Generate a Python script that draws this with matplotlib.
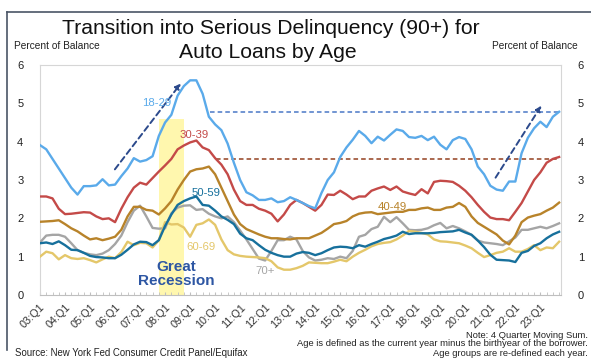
#!/usr/bin/env python3
"""Transition into serious delinquency (90+) for auto loans, by borrower age."""

import matplotlib
matplotlib.use("Agg")
import matplotlib.pyplot as plt
from matplotlib.lines import Line2D

plt.rcParams["font.family"] = ["Liberation Sans", "DejaVu Sans"]

# quarterly, 03:Q1 .. 23:Q4, percent of balance (4 quarter moving sum)
age_18_29 = [3.91, 3.80, 3.55, 3.30, 3.05, 2.80, 2.62, 2.84, 2.84, 2.86,
             3.02, 2.86, 2.88, 3.10, 3.30, 3.57, 3.48, 3.52, 3.62, 4.15,
             4.50, 4.70, 5.20, 5.45, 5.60, 5.60, 5.25, 4.65, 4.45, 4.30,
             3.95, 3.45, 3.00, 2.68, 2.60, 2.48, 2.48, 2.52, 2.42, 2.45,
             2.55, 2.48, 2.40, 2.32, 2.26, 2.66, 3.00, 3.20, 3.60, 3.85,
             4.05, 4.28, 4.15, 3.96, 4.13, 4.03, 4.18, 4.32, 4.28, 4.12,
             4.10, 4.15, 4.04, 4.13, 3.92, 3.80, 4.04, 4.12, 4.07, 3.80,
             3.35, 3.15, 2.85, 2.75, 2.72, 2.96, 2.96, 3.70, 4.10, 4.35,
             4.52, 4.38, 4.65, 4.78]
age_30_39 = [2.57, 2.57, 2.52, 2.25, 2.11, 2.12, 2.14, 2.16, 2.15, 2.05,
             1.98, 2.00, 1.90, 2.25, 2.55, 2.80, 2.93, 2.88, 3.05, 3.22,
             3.38, 3.55, 3.80, 3.90, 3.98, 4.03, 3.85, 3.78, 3.57, 3.40,
             3.15, 2.75, 2.45, 2.35, 2.35, 2.25, 2.20, 2.12, 1.92, 2.10,
             2.35, 2.48, 2.40, 2.30, 2.20, 2.35, 2.62, 2.61, 2.72, 2.62,
             2.50, 2.57, 2.57, 2.72, 2.78, 2.83, 2.74, 2.83, 2.70, 2.65,
             2.61, 2.76, 2.65, 2.95, 2.98, 2.97, 2.95, 2.85, 2.72, 2.55,
             2.35, 2.17, 2.02, 1.98, 1.98, 1.95, 2.17, 2.40, 2.70, 3.00,
             3.20, 3.45, 3.55, 3.60]
age_40_49 = [1.91, 1.92, 1.93, 1.95, 1.85, 1.74, 1.66, 1.55, 1.45, 1.48,
             1.43, 1.47, 1.52, 1.70, 2.05, 2.30, 2.30, 2.22, 2.20, 2.10,
             2.26, 2.45, 2.75, 3.00, 3.22, 3.28, 3.30, 3.35, 3.15, 2.80,
             2.45, 2.10, 1.85, 1.72, 1.65, 1.58, 1.52, 1.48, 1.48, 1.46,
             1.45, 1.48, 1.48, 1.48, 1.55, 1.62, 1.73, 1.85, 1.88, 1.93,
             2.05, 2.12, 2.15, 2.16, 2.11, 2.13, 2.15, 2.17, 2.17, 2.22,
             2.22, 2.26, 2.28, 2.22, 2.22, 2.28, 2.30, 2.40, 2.30, 2.05,
             1.88, 1.78, 1.68, 1.58, 1.42, 1.32, 1.55, 1.90, 2.02, 2.07,
             2.11, 2.20, 2.28, 2.41]
age_50_59 = [1.35, 1.37, 1.33, 1.40, 1.30, 1.18, 1.17, 1.10, 1.02, 0.99,
             0.98, 0.96, 0.96, 1.05, 1.18, 1.32, 1.39, 1.38, 1.30, 1.43,
             1.80, 2.10, 2.35, 2.45, 2.52, 2.57, 2.35, 2.33, 2.20, 2.05,
             1.96, 1.85, 1.60, 1.48, 1.43, 1.30, 1.18, 1.10, 1.04, 1.00,
             1.00, 1.08, 1.12, 1.10, 1.04, 1.09, 1.17, 1.24, 1.26, 1.25,
             1.22, 1.30, 1.26, 1.33, 1.39, 1.46, 1.50, 1.55, 1.65, 1.59,
             1.61, 1.61, 1.61, 1.62, 1.64, 1.65, 1.66, 1.70, 1.63, 1.57,
             1.42, 1.25, 1.05, 0.92, 0.91, 0.90, 0.86, 1.10, 1.15, 1.28,
             1.35, 1.48, 1.58, 1.65]
age_60_69 = [1.00, 1.13, 1.09, 0.93, 1.04, 0.96, 0.94, 0.96, 0.91, 0.85,
             0.93, 1.00, 0.96, 1.12, 1.39, 1.30, 1.36, 1.35, 1.24, 1.43,
             1.90, 1.84, 1.85, 1.76, 1.52, 1.83, 1.87, 1.97, 1.83, 1.45,
             1.17, 1.06, 1.02, 1.00, 0.99, 0.98, 0.96, 0.88, 0.72, 0.66,
             0.66, 0.70, 0.76, 0.85, 0.84, 0.83, 0.83, 0.87, 0.92, 0.88,
             1.00, 1.10, 1.18, 1.27, 1.33, 1.36, 1.38, 1.45, 1.55, 1.67,
             1.65, 1.62, 1.58, 1.45, 1.40, 1.39, 1.37, 1.35, 1.29, 1.22,
             1.10, 0.99, 1.04, 1.10, 1.13, 1.22, 1.13, 1.13, 1.20, 1.30,
             1.17, 1.24, 1.22, 1.39]
age_70_plus = [1.37, 1.55, 1.57, 1.57, 1.52, 1.35, 1.17, 1.10, 1.06, 1.04,
               1.08, 1.17, 1.33, 1.55, 1.90, 2.20, 2.33, 2.05, 1.75, 1.73,
               1.74, 2.13, 2.28, 2.33, 2.34, 2.22, 2.24, 2.12, 2.05, 2.00,
               2.05, 1.90, 1.68, 1.45, 1.20, 0.95, 0.90, 1.15, 1.43, 1.43,
               1.52, 1.45, 1.15, 0.98, 0.90, 0.92, 0.96, 0.94, 1.00, 0.96,
               1.15, 1.52, 1.57, 1.72, 1.78, 2.04, 1.90, 2.03, 1.87, 1.70,
               1.69, 1.70, 1.74, 1.82, 1.88, 1.74, 1.80, 1.74, 1.66, 1.57,
               1.42, 1.37, 1.35, 1.33, 1.30, 1.40, 1.50, 1.70, 1.70, 1.74,
               1.78, 1.74, 1.80, 1.87]

tick_labels = ["03:Q1", "04:Q1", "05:Q1", "06:Q1", "07:Q1", "08:Q1", "09:Q1",
               "10:Q1", "11:Q1", "12:Q1", "13:Q1", "14:Q1", "15:Q1", "16:Q1",
               "17:Q1", "18:Q1", "19:Q1", "20:Q1", "21:Q1", "22:Q1", "23:Q1"]

recession_start, recession_end = 19, 23   # quarter index of shaded band
ref_18_29 = 4.78   # latest 18-29 level, dashed back to 2009
ref_30_39 = 3.56   # latest 30-39 level, dashed back to 2010

series = [
    ("18-29", age_18_29, "#5aaaea"),
    ("30-39", age_30_39, "#c44a48"),
    ("40-49", age_40_49, "#b8832a"),
    ("50-59", age_50_59, "#17709c"),
    ("60-69", age_60_69, "#e4c76a"),
    ("70+", age_70_plus, "#a5a5a5"),
]

W, H = 591, 360
fig = plt.figure(figsize=(W / 100, H / 100), dpi=100)
ax = fig.add_axes([40 / W, 1 - 295 / H, (561 - 40) / W, (295 - 65) / H])

quarters = list(range(len(age_18_29)))

# Great Recession band
ax.fill_between([recession_start, recession_end], 0, 4.6, color="#fff7ae", lw=0, zorder=0)

for name, vals, col in series[::-1]:
    ax.plot(quarters, vals, color=col, lw=1.7, zorder=3)

# dashed reference levels
ax.hlines(ref_18_29, 27.2, quarters[-1], colors="#4a78c6", linestyles=(0, (3, 2)), lw=1.1, zorder=2)
ax.hlines(ref_30_39, 28.2, quarters[-1], colors="#93401f", linestyles=(0, (3, 2)), lw=1.1, zorder=2)

# dashed trend arrows
arrow_kw = dict(arrowstyle="-|>", color="#2c4a8c", lw=1.4, ls=(0, (3, 2)), mutation_scale=8)
ax.annotate("", xy=(22.8, 5.58), xytext=(11.7, 3.22), arrowprops=arrow_kw, zorder=4)
ax.annotate("", xy=(80.4, 5.0), xytext=(72.6, 3.0), arrowprops=arrow_kw, zorder=4)

# series labels
label_pos = {"18-29": (18.6, 5.0), "30-39": (24.6, 4.17), "40-49": (56.4, 2.30),
             "50-59": (26.6, 2.67), "60-69": (25.8, 1.24), "70+": (36.0, 0.62)}
for name, vals, col in series:
    x, y = label_pos[name]
    ax.text(x, y, name, color=col, fontsize=8.2, ha="center", va="center", zorder=5)

ax.text(21.8, 0.55, "Great\nRecession", color="#2d56a3", fontsize=11, fontweight="bold",
        ha="center", va="center", linespacing=1.0, zorder=5)

ax.set_xlim(0, 83.3)
ax.set_ylim(0, 6)
ax.set_xticks(quarters[::4])
ax.set_xticklabels(tick_labels, rotation=45, ha="right", rotation_mode="anchor",
                   fontsize=7.8, color="#333333")
ax.set_xticks(quarters, minor=True)
ax.tick_params(axis="x", which="both", direction="in", length=2.5, color="#bfbfbf", pad=5)
ax.tick_params(axis="y", length=0, labelsize=8, pad=12, labelcolor="#222222",
               left=True, right=True, labelleft=True, labelright=True)
ax.set_yticks(range(0, 7))
for side in ax.spines:
    ax.spines[side].set_color("#d6d6d6")
    ax.spines[side].set_linewidth(0.8)
ax.spines["bottom"].set_color("#bfbfbf")

# outer frame (top and left edges are visible in the crop)
fig.add_artist(Line2D([7 / W, 1], [1 - 12 / H, 1 - 12 / H], color="#4a5566", lw=1.2))
fig.add_artist(Line2D([7 / W, 7 / W], [1 - 12 / H, 1 - 350 / H], color="#4a5566", lw=1.2))

fig.text(271 / W, 1 - 28 / H, "Transition into Serious Delinquency (90+) for",
         ha="center", va="center", fontsize=15.2, color="#111111")
fig.text(268 / W, 1 - 52 / H, "Auto Loans by Age",
         ha="center", va="center", fontsize=15.2, color="#111111")
fig.text(14 / W, 1 - 46 / H, "Percent of Balance", fontsize=7.3, va="center", color="#222222")
fig.text(578 / W, 1 - 46 / H, "Percent of Balance", fontsize=7.3, va="center", ha="right",
         color="#222222")

fig.text(588 / W, 1 - 335 / H, "Note: 4 Quarter Moving Sum.", fontsize=6.75, ha="right",
         va="center", color="#222222")
fig.text(588 / W, 1 - 344 / H, "Age is defined as the current year minus the birthyear of the borrower.",
         fontsize=6.75, ha="right", va="center", color="#222222")
fig.text(588 / W, 1 - 353 / H, "Age groups are re-defined each year.", fontsize=6.75, ha="right",
         va="center", color="#222222")
fig.text(15 / W, 1 - 353 / H, "Source: New York Fed Consumer Credit Panel/Equifax", fontsize=6.9,
         va="center", color="#222222")

fig.savefig("out.png", dpi=100)
